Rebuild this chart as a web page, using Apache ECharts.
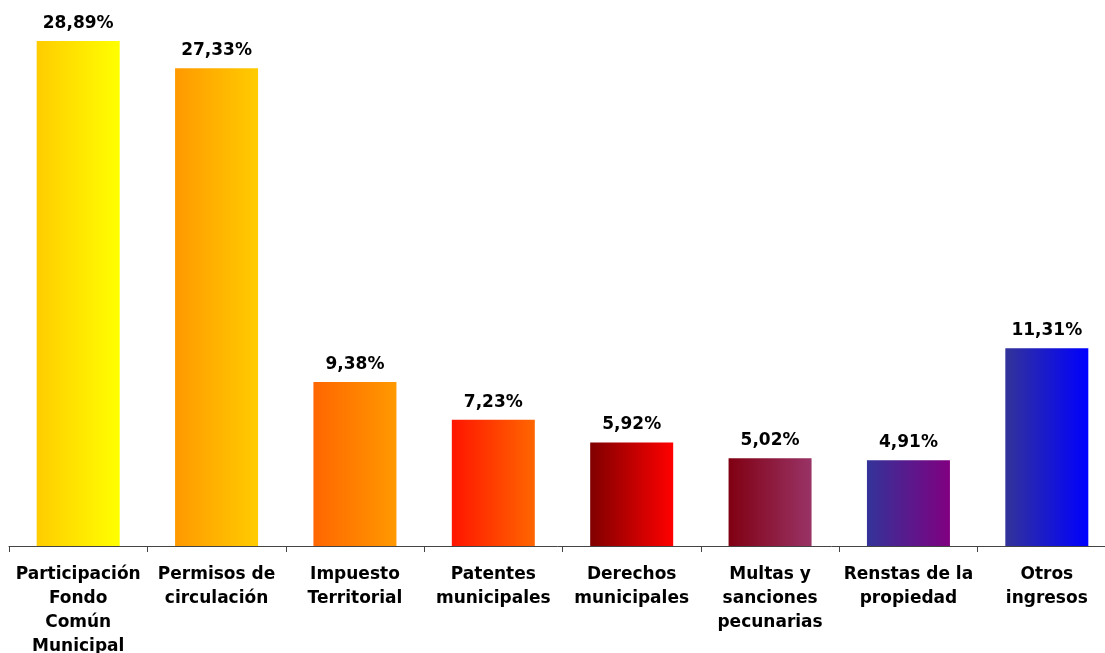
<!DOCTYPE html>
<html>
<head>
<meta charset="utf-8">
<script src="https://cdn.jsdelivr.net/npm/echarts@6/dist/echarts.min.js"></script>
<style>
html,body{margin:0;padding:0;background:#fff;overflow:hidden;}
#chart{width:1105px;height:653px;}
</style>
</head>
<body>
<div id="chart"></div>
<script>
const categories = [
  "Participación\nFondo\nComún\nMunicipal",
  "Permisos de\ncirculación",
  "Impuesto\nTerritorial",
  "Patentes\nmunicipales",
  "Derechos\nmunicipales",
  "Multas y\nsanciones\npecunarias",
  "Renstas de la\npropiedad",
  "Otros\ningresos"
];
const values = [28.89, 27.33, 9.38, 7.23, 5.92, 5.02, 4.91, 11.31];
const gradientStart = ["#FFCC00", "#FF9900", "#FF6600", "#FF1500", "#800000", "#800012", "#333399", "#333399"];
const gradientEnd   = ["#FFFF00", "#FFCC00", "#FF9900", "#FF6600", "#FF0000", "#993366", "#800080", "#0000FF"];

const chart = echarts.init(document.getElementById('chart'));
const font = '"DejaVu Sans", sans-serif';
chart.setOption({
  animation: false,
  grid: { left: 9, top: 0, width: 1107, height: 546, containLabel: false, outerBoundsMode: 'none' },
  xAxis: {
    type: 'category',
    data: categories,
    axisLine: { lineStyle: { color: '#444', width: 1 } },
    axisTick: { show: true, length: 6, lineStyle: { color: '#444' } },
    axisLabel: {
      interval: 0, margin: 17, color: '#000',
      fontFamily: font, fontWeight: 'bold', fontSize: 17, lineHeight: 24
    }
  },
  yAxis: {
    type: 'value', min: 0, max: 31.24,
    show: false, splitLine: { show: false }
  },
  series: [{
    type: 'bar',
    barWidth: 83,
    data: values.map((v, i) => ({
      value: v,
      itemStyle: {
        color: new echarts.graphic.LinearGradient(0, 0, 1, 0, [
          { offset: 0, color: gradientStart[i] },
          { offset: 1, color: gradientEnd[i] }
        ])
      }
    })),
    label: {
      show: true, position: 'top', distance: 9, color: '#000',
      fontFamily: font, fontWeight: 'bold', fontSize: 17,
      formatter: p => p.value.toFixed(2).replace('.', ',') + '%'
    }
  }]
});
</script>
</body>
</html>
